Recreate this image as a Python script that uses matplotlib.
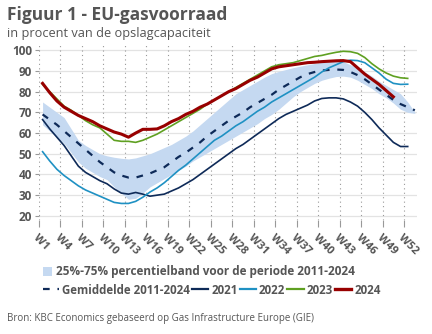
import matplotlib
matplotlib.use("Agg")
import matplotlib.pyplot as plt
from matplotlib.lines import Line2D
from matplotlib.patches import Patch

plt.rcParams['font.family'] = ['Open Sans', 'DejaVu Sans']

weeks53 = list(range(1, 54))
band_low = [64, 61, 58, 55, 50.5, 46, 43, 41, 39, 37.5, 34, 31, 28, 28.5, 31, 34, 36, 38, 40, 42,
            44, 46.5, 48.5, 50.5, 52.5, 54.5, 56.5, 58.5, 60.5, 62.5, 64.5, 67, 69, 71.5, 74.5, 77.5,
            80, 82, 84, 85.5, 86.5, 87.3, 87.5, 87, 85.5, 83.5, 81.5, 79, 77, 74.5, 71.5, 70, 69.5]
band_high = [75, 72.5, 70, 67.5, 62, 56.5, 54, 52, 50, 49, 48.3, 47.8, 47.5, 48, 49, 50, 51.5, 53,
             54.5, 56.5, 58.5, 61, 64, 67, 70, 73, 76, 79, 81, 83, 85, 87, 88.7, 89.8, 90.7, 91.6,
             92.3, 93, 93.6, 94.2, 94.6, 94.9, 94.5, 93, 91.5, 89.5, 87.5, 85, 83, 81, 79, 75, 70]
mean = [69, 66.5, 64, 61, 58, 55, 52, 49, 46, 43.5, 41, 39.5, 38.5, 38.5, 39.5, 40.5, 42, 43.5, 46,
        48.5, 50.5, 53, 55.5, 58.5, 61, 63.5, 66, 68, 70, 72.5, 74.5, 76.5, 78.5, 81, 83, 85, 87,
        88.5, 89.5, 90.2, 90.5, 90.7, 90.5, 89.5, 88, 86, 83.5, 81, 78.5, 76, 74, 72.5, 71]

weeks52 = list(range(1, 53))
y2021 = [66.5, 62, 58, 54, 49, 44, 41, 39, 37, 35.5, 33, 31, 30.5, 31.3, 30.5, 29.5, 30, 30.5, 32,
         33.5, 35.5, 37.5, 40, 42.5, 45, 47.5, 50, 52.5, 54.5, 57, 59.5, 62, 64.5, 67, 69, 70.5, 72,
         73.5, 75.5, 76.7, 77, 77, 76.5, 75, 73, 70, 66.5, 62.5, 59, 55.5, 53.5, 53.5]
y2022 = [51, 46.5, 42.5, 39.5, 37, 34.5, 32.5, 31, 29.5, 28, 26.5, 26, 26, 27, 29, 31.5, 33.5, 36,
         39, 42, 44.5, 47.5, 50.5, 53.5, 56.5, 58.5, 61, 63.5, 65.5, 68, 70.5, 72.5, 75, 77, 79, 81,
         83, 85, 87, 89.5, 91.5, 93, 94.5, 95.2, 95, 94, 91.5, 89, 86, 84, 83.5, 83.6]
y2023 = [83.5, 80, 76.5, 73, 71, 68.5, 66, 64, 62.5, 59.5, 56.5, 56, 56, 55.5, 56.5, 58, 59.5, 61.5,
         63.5, 65.5, 67.5, 69.5, 71.5, 74, 76, 78, 80, 82, 84, 86, 88, 90, 92, 93, 93.5, 94, 95, 96,
         97, 97.5, 98.3, 99, 99.5, 99.3, 98.5, 96.5, 93.5, 91, 89, 87.5, 86.7, 86.4]
weeks50 = list(range(1, 51))
y2024 = [84, 79.5, 75.5, 72.5, 70.5, 68.5, 67, 65.5, 63.5, 62, 60.5, 59.5, 58, 60, 61.8, 61.8, 62,
         63.5, 65.5, 67, 69, 70.5, 72.5, 74, 76, 78, 80, 81.5, 83.5, 85.5, 87, 89, 91, 92, 92.5, 93,
         93.5, 94, 94.2, 94.5, 94.7, 94.9, 95, 94.5, 91.5, 88.5, 86, 83.5, 80.5, 77.5]

tick_weeks = list(range(1, 53, 3))
tick_labels = ["W%d" % w for w in tick_weeks]
y_ticks = [20, 30, 40, 50, 60, 70, 80, 90, 100]

c_band = '#c5d9f1'
c_navy = '#0e2a58'
c_light = '#1f91c3'
c_green = '#5fa021'
c_red = '#980000'
c_text = '#555555'

fig = plt.figure(figsize=(4.32, 3.34), dpi=100)
ax = fig.add_axes([39 / 432, (334 - 220) / 334, (417 - 39) / 432, (220 - 43) / 334])

ax.fill_between(weeks53, band_low, band_high, color=c_band, lw=0, zorder=1)
ax.plot(weeks53, mean, color=c_navy, lw=1.6, ls=(0, (3, 3.5)), zorder=3)
ax.plot(weeks52, y2021, color=c_navy, lw=1.2, zorder=3)
ax.plot(weeks52, y2022, color=c_light, lw=1.2, zorder=3)
ax.plot(weeks52, y2023, color=c_green, lw=1.2, zorder=3)
ax.plot(weeks50, y2024, color=c_red, lw=2.2, zorder=4)

ax.set_xlim(0.5, 53.3)
ax.set_ylim(18, 103.5)
ax.set_yticks(y_ticks)
ax.set_yticklabels([str(v) for v in y_ticks], fontsize=8.5, fontweight='bold', color=c_text)
ax.set_xticks([w - 0.5 for w in tick_weeks])
ax.set_xticklabels(tick_labels, fontsize=8, fontweight='bold', color=c_text,
                   rotation=-45, ha='left', va='top', rotation_mode='anchor')
ax.tick_params(axis='y', length=3, color='#999999', pad=2)
ax.tick_params(axis='x', length=5, color='#999999', pad=4, direction='out')
for s in ax.spines.values():
    s.set_visible(False)
for v in y_ticks:
    ax.axhline(v, color='#e3e3e3', lw=0.9, zorder=0)
for w in tick_weeks:
    ax.axvline(w - 0.5, color='#999999', lw=0.8, ls=(0, (1, 3)), zorder=0)

fig.text(7 / 432, 1 - 15 / 334, "Figuur 1 - EU-gasvoorraad", fontsize=12.5, fontweight='bold',
         color=c_text, va='center', ha='left')
fig.text(7 / 432, 1 - 33 / 334, "in procent van de opslagcapaciteit", fontsize=9.2,
         color=c_text, va='center', ha='left')
fig.text(7 / 432, 1 - 318 / 334, "Bron: KBC Economics gebaseerd op Gas Infrastructure Europe (GIE)",
         fontsize=7, color=c_text, va='center', ha='left')

h1 = [Patch(facecolor=c_band, edgecolor='none')]
leg1 = fig.legend(h1, ["25%-75% percentielband voor de periode 2011-2024"], loc='center left',
                  bbox_to_anchor=(43 / 432, 1 - 272 / 334), frameon=False, handlelength=0.8,
                  handleheight=0.8, handletextpad=0.3, borderpad=0, borderaxespad=0,
                  prop={'size': 8.5, 'weight': 'bold'})
for t in leg1.get_texts():
    t.set_color(c_text)
h2 = [Line2D([], [], color=c_navy, lw=1.6, ls=(0, (3, 3.5))),
      Line2D([], [], color=c_navy, lw=1.6),
      Line2D([], [], color=c_light, lw=1.6),
      Line2D([], [], color=c_green, lw=1.6),
      Line2D([], [], color=c_red, lw=2.4)]
leg2 = fig.legend(h2, ["Gemiddelde 2011-2024", "2021", "2022", "2023", "2024"], loc='center left',
                  bbox_to_anchor=(43 / 432, 1 - 290 / 334), frameon=False, ncol=5,
                  handlelength=1.4, handletextpad=0.25, columnspacing=0.2, borderpad=0,
                  borderaxespad=0, prop={'size': 8.3, 'weight': 'bold'})
for t in leg2.get_texts():
    t.set_color(c_text)

fig.savefig("out.png", dpi=100)
